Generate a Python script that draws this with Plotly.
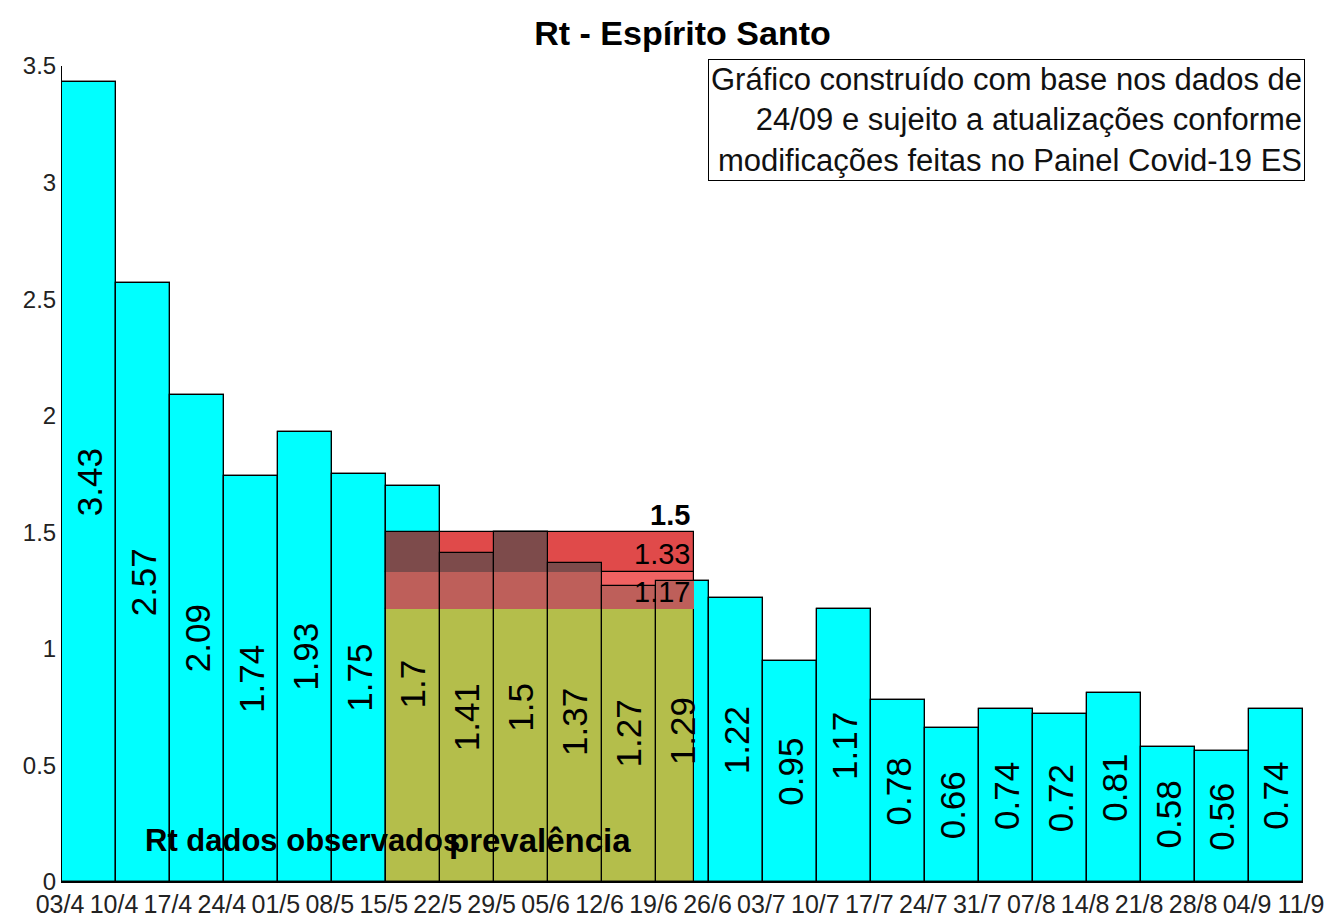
import pandas as pd
import plotly.graph_objects as go

# inicio de cada semana (dd/m) - a ultima data fecha a ultima barra
semanas = ["03/4", "10/4", "17/4", "24/4", "01/5", "08/5", "15/5", "22/5",
           "29/5", "05/6", "12/6", "19/6", "26/6", "03/7", "10/7", "17/7",
           "24/7", "31/7", "07/8", "14/8", "21/8", "28/8", "04/9", "11/9"]
rt = [3.43, 2.57, 2.09, 1.74, 1.93, 1.75, 1.7, 1.41, 1.5, 1.37, 1.27, 1.29,
      1.22, 0.95, 1.17, 0.78, 0.66, 0.74, 0.72, 0.81, 0.58, 0.56, 0.74]
ano = 2020

# janela do inquerito de prevalencia e niveis de Rt estimados
prev_inicio = "15/5"
prev_fim = "24/6"
prev_niveis = [1.17, 1.33, 1.5]

titulo = "Rt - Espírito Santo"
nota = ("Gráfico construído com base nos dados de<br>"
        "24/09 e sujeito a atualizações conforme<br>"
        "modificações feitas no Painel Covid-19 ES")

FONTE = "Liberation Sans, Arial, sans-serif"
CIANO = "#00FFFF"
OLIVA = "#B4BE4B"
VERM_A = "#F06262"       # faixa 1.17-1.33 sobre fundo branco
VERM_B = "#E04A4A"       # faixa 1.33-1.5 sobre fundo branco
ESCURO_A = "#BE5F5A"     # faixa 1.17-1.33 sobre a barra
ESCURO_B = "#7D4B4B"     # faixa 1.33-1.5 sobre a barra


def to_date(s):
    d, m = s.split("/")
    return pd.Timestamp(ano, int(m), int(d))


def ms(a, b):
    return (b - a).total_seconds() * 1000


datas = [to_date(s) for s in semanas]
inicio = datas[:-1]
fim = datas[1:]
larg = [ms(a, b) for a, b in zip(inicio, fim)]

p0, p1 = to_date(prev_inicio), to_date(prev_fim)
n0, n1, n2 = prev_niveis

fig = go.Figure()

# barras de Rt
fig.add_trace(go.Bar(x=inicio, y=rt, width=larg, offset=0,
                     marker=dict(color=CIANO, line=dict(color="black", width=1.2)),
                     hoverinfo="skip"))

# prevalencia: bloco oliva e faixas vermelhas
linha = dict(color="black", width=1.2)
fig.add_trace(go.Bar(x=[p0], y=[n0], base=[0], width=[ms(p0, p1)], offset=0,
                     marker=dict(color=OLIVA, line=linha), hoverinfo="skip"))
fig.add_trace(go.Bar(x=[p0], y=[n1 - n0], base=[n0], width=[ms(p0, p1)], offset=0,
                     marker=dict(color=VERM_A, line=linha), hoverinfo="skip"))
fig.add_trace(go.Bar(x=[p0], y=[n2 - n1], base=[n1], width=[ms(p0, p1)], offset=0,
                     marker=dict(color=VERM_B, line=linha), hoverinfo="skip"))

# parte das faixas que fica sobre as barras
xa, wa, ha, xb, wb, hb = [], [], [], [], [], []
for a, b, v in zip(inicio, fim, rt):
    a2, b2 = max(a, p0), min(b, p1)
    if a2 >= b2:
        continue
    if v > n0:
        xa.append(a2); wa.append(ms(a2, b2)); ha.append(min(v, n1) - n0)
    if v > n1:
        xb.append(a2); wb.append(ms(a2, b2)); hb.append(min(v, n2) - n1)
fig.add_trace(go.Bar(x=xa, y=ha, base=[n0] * len(xa), width=wa, offset=0,
                     marker=dict(color=ESCURO_A, line=dict(width=0)), hoverinfo="skip"))
fig.add_trace(go.Bar(x=xb, y=hb, base=[n1] * len(xb), width=wb, offset=0,
                     marker=dict(color=ESCURO_B, line=dict(width=0)), hoverinfo="skip"))

# contornos das barras por cima de tudo
fig.add_trace(go.Bar(x=inicio, y=rt, width=larg, offset=0,
                     marker=dict(color="rgba(0,0,0,0)", line=linha),
                     hoverinfo="skip"))

# rotulos dos valores
for a, v in zip(inicio, rt):
    fig.add_annotation(x=a + pd.Timedelta(hours=84), y=v / 2, text=f"{v:g}",
                       textangle=-90, showarrow=False,
                       font=dict(family=FONTE, size=35, color="black"))

# niveis da prevalencia
for i, n in enumerate(prev_niveis):
    fig.add_annotation(x=p1, y=n, text=f"{n:g}", showarrow=False,
                       xanchor="right", yanchor="bottom", xshift=-2,
                       yshift=0 if i == 1 else -1,
                       font=dict(family=FONTE, size=29, color="black",
                                 weight="bold" if i == 2 else "normal"))

fig.add_annotation(x=inicio[1] + pd.Timedelta(hours=84), y=0.18,
                   text="Rt dados observados", showarrow=False,
                   xanchor="left", yanchor="middle",
                   font=dict(family=FONTE, size=31, color="black", weight="bold"))
fig.add_annotation(x=p0 + (p1 - p0) / 2, y=0.18, text="prevalência",
                   showarrow=False, xanchor="center", yanchor="middle",
                   font=dict(family=FONTE, size=33, color="black", weight="bold"))

fig.add_annotation(xref="paper", yref="paper", x=1.002, y=1.008,
                   xanchor="right", yanchor="top", align="right", text=nota,
                   showarrow=False, bgcolor="white", bordercolor="black",
                   borderwidth=1, borderpad=2,
                   font=dict(family=FONTE, size=31, color="#111"))

yticks = [0, 0.5, 1, 1.5, 2, 2.5, 3, 3.5]
fig.update_layout(
    width=1330, height=920,
    margin=dict(l=62, r=27, t=66, b=38, autoexpand=False),
    barmode="overlay", bargap=0, showlegend=False,
    plot_bgcolor="white", paper_bgcolor="white",
    title=dict(text=titulo, x=0.5, xref="paper", y=1 - 33 / 920,
               yanchor="middle", xanchor="center", automargin=False,
               font=dict(family=FONTE, size=34, color="black", weight="bold")),
    xaxis=dict(type="date", range=[datas[0], datas[-1]],
               tickvals=datas, ticktext=semanas, ticks="",
               showgrid=False, zeroline=False, showline=True, automargin=False,
               linecolor="black", linewidth=1, layer="below traces",
               ticklabelshift=-2,
               tickfont=dict(family=FONTE, size=25, color="#222")),
    yaxis=dict(range=[0, 3.5], tickvals=yticks,
               ticktext=[f"{t:g}" for t in yticks],
               ticks="inside", ticklen=7, tickcolor="black", automargin=False,
               showgrid=False, zeroline=False, showline=True,
               linecolor="black", linewidth=1, layer="below traces",
               tickfont=dict(family=FONTE, size=24, color="#222")),
)

# a pagina padrao tem margem de 8px no body: zera para a figura ocupar a janela
fig.write_html("out.html", config={"displayModeBar": False},
               post_script="document.body.style.margin = '0';")
